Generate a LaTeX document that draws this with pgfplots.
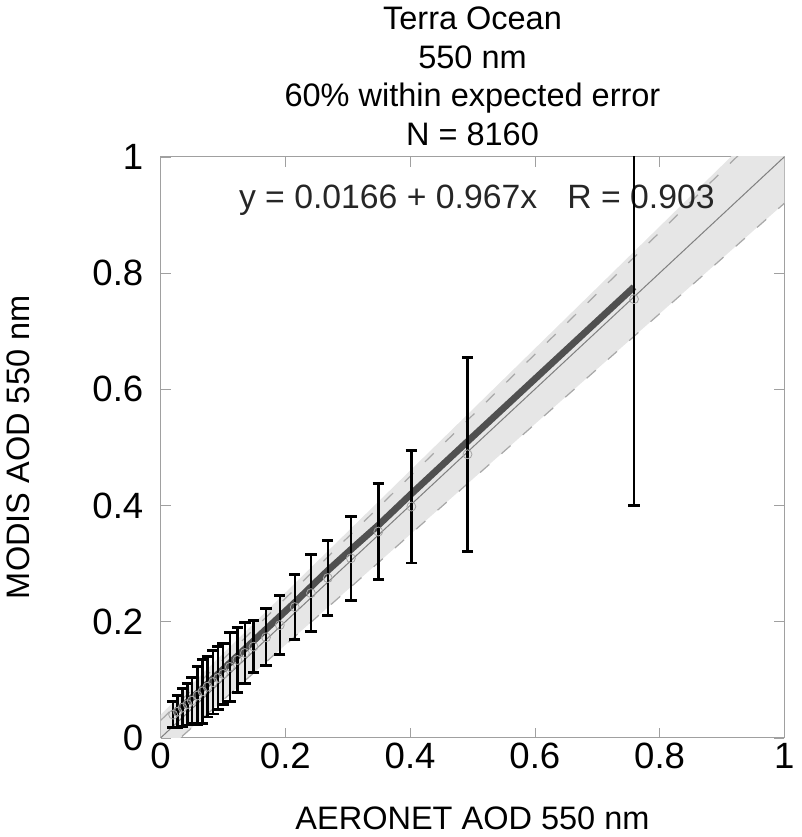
\documentclass[border=0pt]{standalone}
\usepackage{pgfplots}
\usepackage{pgfplotstable}
\usepackage{fontspec}
\setmainfont{Liberation Sans}
\pgfplotsset{compat=1.18}

\definecolor{bandgray}{HTML}{E6E6E6}
\definecolor{dashgray}{HTML}{A8A8A8}
\definecolor{meangray}{HTML}{505050}
\definecolor{axgray}{HTML}{A0A0A0}

% binned AERONET AOD, MODIS mean, bar centre (median), bar half-width
\pgfplotstableread{
x     mean  ctr   err
0.020 0.042 0.040 0.022
0.027 0.048 0.045 0.028
0.035 0.055 0.052 0.033
0.043 0.062 0.058 0.036
0.050 0.069 0.064 0.040
0.059 0.077 0.073 0.050
0.067 0.085 0.080 0.055
0.075 0.093 0.088 0.052
0.084 0.102 0.096 0.055
0.092 0.110 0.103 0.054
0.100 0.118 0.110 0.052
0.111 0.129 0.122 0.059
0.123 0.141 0.134 0.056
0.135 0.153 0.146 0.053
0.149 0.167 0.157 0.045
0.169 0.187 0.173 0.049
0.191 0.209 0.194 0.051
0.215 0.233 0.225 0.056
0.241 0.260 0.249 0.066
0.268 0.288 0.275 0.065
0.305 0.324 0.309 0.072
0.349 0.366 0.355 0.083
0.402 0.420 0.398 0.097
0.492 0.510 0.488 0.167
0.759 0.776 0.755 0.355
}\bins

\begin{document}
\begin{tikzpicture}
\begin{axis}[
    scale only axis,
    width=307pt,
    height=286pt,
    xmin=0, xmax=1,
    ymin=0, ymax=1,
    xtick={0,0.2,0.4,0.6,0.8,1},
    ytick={0,0.2,0.4,0.6,0.8,1},
    tick align=inside,
    major tick length=5pt,
    axis line style={axgray},
    tick style={axgray},
    /pgf/number format/assume math mode=true,
    tick label style={font=\fontsize{18}{21}\selectfont, black},
    xticklabel style={yshift=1pt},
    yticklabel style={xshift=-5pt},
    label style={font=\fontsize{16}{19}\selectfont},
    xlabel={AERONET AOD 550 nm},
    ylabel={MODIS AOD 550 nm},
    xlabel style={yshift=-12pt},
    ylabel style={yshift=24pt},
    title={Terra Ocean\\550 nm\\60\% within expected error\\N = 8160},
    title style={font=\fontsize{16}{19}\selectfont, align=center, yshift=-4pt},
]
% expected error envelope
\addplot[fill=bandgray, draw=none] coordinates {(0,-0.03) (1,0.92) (1,1.09) (0,0.04)} -- cycle;
\addplot[dashgray, line width=0.6pt, dash pattern=on 6pt off 8pt] coordinates {(0,0.03) (1,1.08)};
\addplot[dashgray, line width=0.6pt, dash pattern=on 6pt off 8pt] coordinates {(0,-0.03) (1,0.92)};
% 1:1 line
\addplot[gray, line width=0.5pt] coordinates {(0,0) (1,1)};
\node[font=\fontsize{16.6}{19}\selectfont, text=black!85] at (axis cs:0.507,0.925) {y = 0.0166 + 0.967x\hspace{0.9em}R = 0.903};
% medians
\addplot[only marks, mark=o, mark size=2.2pt, gray!70, line width=0.4pt] table[x=x, y=ctr] {\bins};
% mean line
\addplot[meangray, line width=3.3pt] table[x=x, y=mean] {\bins};
% bars
\addplot[draw=none, mark=none,
    error bars/.cd, y dir=both, y explicit,
    error bar style={line width=1.2pt, draw=black},
    error mark options={rotate=90, mark size=2.8pt, line width=1.4pt, draw=black}]
    table[x=x, y=ctr, y error=err] {\bins};
\end{axis}
\end{tikzpicture}
\end{document}
